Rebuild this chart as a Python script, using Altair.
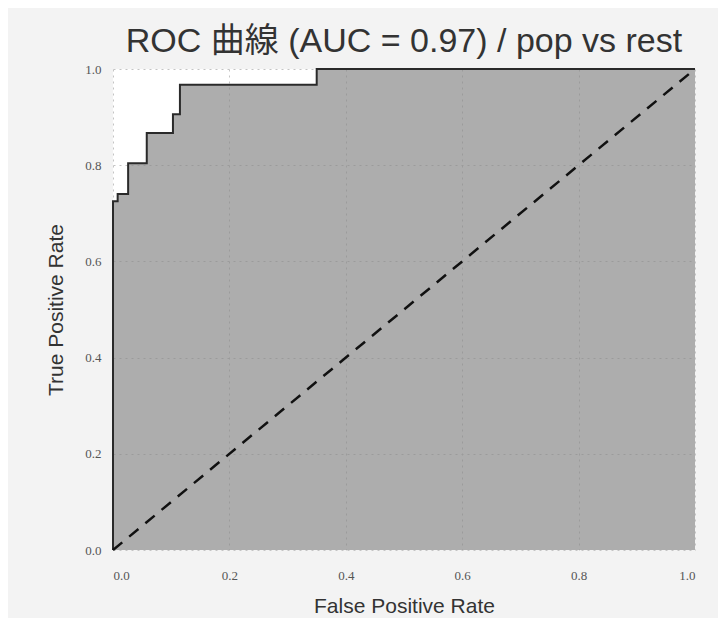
import altair as alt
import pandas as pd

# ROC curve points
fpr = [0.0, 0.0, 0.008, 0.008, 0.026, 0.026, 0.058, 0.058, 0.103, 0.103, 0.115, 0.115, 0.35, 0.35, 1.0]
tpr = [0.0, 0.725, 0.725, 0.74, 0.74, 0.804, 0.804, 0.867, 0.867, 0.906, 0.906, 0.967, 0.967, 1.0, 1.0]
diag = [0.0, 1.0]
ticks = [0.0, 0.2, 0.4, 0.6, 0.8, 1.0]

roc = pd.DataFrame({"fpr": fpr, "tpr": tpr, "i": list(range(len(fpr)))})
# upper corner at each distinct FPR, for a step-after fill
corners = roc.groupby("fpr", as_index=False)["tpr"].max().sort_values("fpr")
dg = pd.DataFrame({"fpr": diag, "tpr": diag})

SANS = "'Liberation Sans', 'Noto Sans CJK JP', sans-serif"
SERIF = "'Liberation Serif', serif"

xax = alt.Axis(values=ticks, format=".1f", title="False Positive Rate", ticks=False, domain=False,
               grid=True, gridColor="#c4c4c4", gridDash=[2, 4], gridWidth=1,
               labelFont=SERIF, labelFontSize=13, labelColor="#555555", labelPadding=19,
               titleFont=SANS, titleFontSize=21, titleFontWeight="normal", titleColor="#333333",
               titlePadding=13)
yax = alt.Axis(values=ticks, format=".1f", title="True Positive Rate", ticks=False, domain=False,
               grid=True, gridColor="#c4c4c4", gridDash=[2, 4], gridWidth=1,
               labelFont=SERIF, labelFontSize=13, labelColor="#555555", labelPadding=12,
               titleFont=SANS, titleFontSize=21, titleFontWeight="normal", titleColor="#333333",
               titlePadding=18)

xs = alt.Scale(domain=[0, 1], nice=False, zero=False)
ys = alt.Scale(domain=[0, 1], nice=False, zero=False)

area = alt.Chart(corners).mark_area(color="#8a8a8a", opacity=0.7, interpolate="step-after").encode(
    x=alt.X("fpr:Q", scale=xs, axis=xax),
    y=alt.Y("tpr:Q", scale=ys, axis=yax, stack=None),
)
line = alt.Chart(roc).mark_line(color="#2a2a2a", strokeWidth=2).encode(
    x=alt.X("fpr:Q", scale=xs),
    y=alt.Y("tpr:Q", scale=ys),
    order=alt.Order("i:Q"),
)
dline = alt.Chart(dg).mark_line(color="#111111", strokeWidth=2.5, strokeDash=[12, 9]).encode(
    x=alt.X("fpr:Q", scale=xs),
    y=alt.Y("tpr:Q", scale=ys),
)

chart = alt.layer(area, line, dline).properties(
    width=582, height=481,
    title=alt.Title("ROC 曲線 (AUC = 0.97) / pop vs rest", font=SANS, fontSize=34,
                    fontWeight="normal", color="#333333", anchor="middle", offset=4,
                    frame="group"),
    autosize=alt.AutoSizeParams(type="none"),
    padding={"left": 105, "top": 61, "right": 23, "bottom": 68},
    background="#f3f3f3",
).configure_view(fill="white", stroke=None)

chart.save("out.html", embed_options={"renderer": "svg", "actions": False})
